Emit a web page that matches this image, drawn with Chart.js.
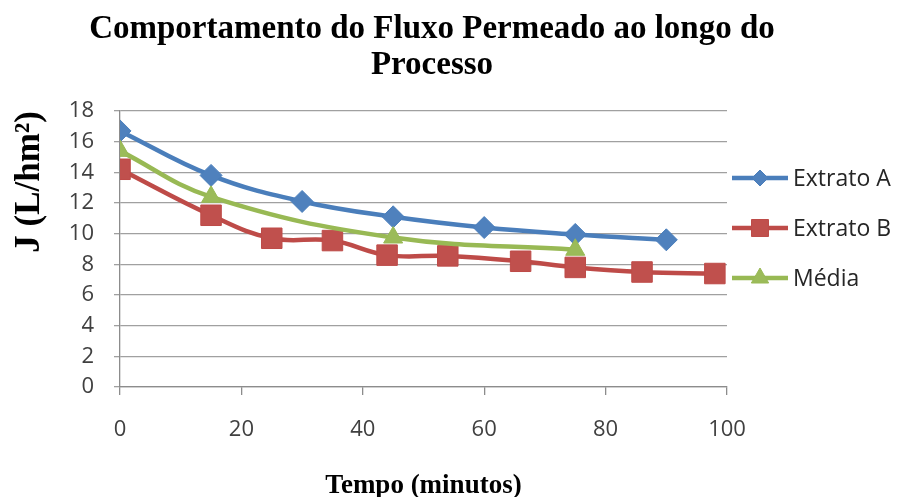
<!DOCTYPE html>
<html>
<head>
<meta charset="utf-8">
<script src="https://cdn.jsdelivr.net/npm/chart.js@4.4.0/dist/chart.umd.min.js"></script>
<style>
  html, body { margin: 0; padding: 0; background: #ffffff; }
  #wrap { width: 897px; height: 497px; }
</style>
</head>
<body>
<div id="wrap"><canvas id="c" width="897" height="497"></canvas></div>
<script>
// Permeate flux measurements (L/h·m²) against process time (minutes)
const tempoA = [0, 15, 30, 45, 60, 75, 90];
const fluxoA = [16.7, 13.8, 12.1, 11.1, 10.4, 9.95, 9.6];

const tempoB = [0, 15, 25, 35, 44, 54, 66, 75, 86, 98];
const fluxoB = [14.2, 11.2, 9.7, 9.55, 8.6, 8.55, 8.2, 7.8, 7.5, 7.4];

const tempoMedia = [0, 15, 45, 75];
const fluxoMedia = [15.4, 12.4, 9.75, 8.95];

const seriesNames = ['Extrato A', 'Extrato B', 'Média'];
const xTicks = [0, 20, 40, 60, 80, 100];
const yTicks = [0, 2, 4, 6, 8, 10, 12, 14, 16, 18];

const titleLines = ['Comportamento do Fluxo Permeado ao longo do', 'Processo'];
const xTitle = 'Tempo (minutos)';
const yTitle = 'J (L/hm²)';

const toPoints = (xs, ys) => xs.map((x, i) => ({ x: x, y: ys[i] }));

const SERIF = '"Liberation Serif", "Times New Roman", serif';
const SANS = '"Open Sans", "Noto Sans", sans-serif';

// Chart heading, drawn centred above the plot in two lines
const headingPlugin = {
  id: 'heading',
  afterDraw(chart) {
    const ctx = chart.ctx;
    ctx.save();
    ctx.fillStyle = '#000000';
    ctx.font = 'bold 33px ' + SERIF;
    ctx.textAlign = 'center';
    ctx.textBaseline = 'middle';
    const cx = 432;
    titleLines.forEach((line, i) => ctx.fillText(line, cx, 29 + i * 36));
    ctx.restore();
  }
};

// Legend on the right: line segment with the series marker, then the name
const lineLegendPlugin = {
  id: 'lineLegend',
  afterDraw(chart) {
    const ctx = chart.ctx;
    const x0 = chart.chartArea.right + 5;
    const x1 = x0 + 56;
    const top = 178;
    const gap = 50;
    ctx.save();
    chart.data.datasets.forEach((ds, i) => {
      const y = top + i * gap;
      ctx.strokeStyle = ds.borderColor;
      ctx.lineWidth = ds.borderWidth;
      ctx.lineCap = 'butt';
      ctx.beginPath();
      ctx.moveTo(x0, y);
      ctx.lineTo(x1, y);
      ctx.stroke();
      ctx.fillStyle = ds.pointBackgroundColor;
      ctx.strokeStyle = ds.pointBorderColor;
      ctx.lineWidth = 1;
      Chart.helpers.drawPoint(ctx, {
        pointStyle: ds.pointStyle,
        radius: ds.legendRadius,
        rotation: 0,
        borderWidth: 1
      }, (x0 + x1) / 2, y);
      ctx.fillStyle = '#262626';
      ctx.font = '23px ' + SANS;
      ctx.textAlign = 'left';
      ctx.textBaseline = 'middle';
      ctx.fillText(ds.label, x1 + 5, y + 1);
    });
    ctx.restore();
  }
};

const lineStyle = (color, fill, border) => ({
  borderColor: color,
  backgroundColor: color,
  pointBackgroundColor: fill,
  pointBorderColor: border,
  pointBorderWidth: 1,
  borderWidth: 4.5,
  borderJoinStyle: 'round',
  tension: 0.4,
  fill: false
});

new Chart(document.getElementById('c'), {
  type: 'line',
  data: {
    datasets: [
      Object.assign({
        label: seriesNames[0],
        data: toPoints(tempoA, fluxoA),
        pointStyle: 'rectRot',
        pointRadius: 11,
        legendRadius: 8,
        order: 2
      }, lineStyle('#4A7EBB', '#4F81BD', '#4A7EBB')),
      Object.assign({
        label: seriesNames[1],
        data: toPoints(tempoB, fluxoB),
        pointStyle: 'rect',
        pointRadius: 14.5,
        legendRadius: 12,
        order: 1
      }, lineStyle('#BE4B48', '#C0504D', '#BE4B48')),
      Object.assign({
        label: seriesNames[2],
        data: toPoints(tempoMedia, fluxoMedia),
        pointStyle: 'triangle',
        pointRadius: 11,
        legendRadius: 10,
        order: 0
      }, lineStyle('#98B954', '#9BBB59', '#98B954'))
    ]
  },
  options: {
    responsive: false,
    animation: false,
    devicePixelRatio: 1,
    layout: { padding: { top: 111, right: 170, bottom: 0, left: 0 } },
    plugins: {
      legend: { display: false },
      title: { display: false },
      tooltip: { enabled: false }
    },
    elements: { point: { hoverRadius: 11 } },
    scales: {
      x: {
        type: 'linear',
        min: 0,
        max: 100,
        afterBuildTicks: s => { s.ticks = xTicks.map(v => ({ value: v })); },
        afterFit: s => { s.height = 110; s.paddingLeft = 0; s.paddingRight = 0; },
        grid: {
          drawOnChartArea: false,
          drawTicks: true,
          tickLength: 8,
          color: '#8c8c8c',
          lineWidth: 1.3
        },
        border: { display: true, color: '#8c8c8c', width: 1.3 },
        ticks: {
          padding: 22,
          color: '#404040',
          font: { family: SANS, size: 22 },
          maxRotation: 0
        },
        title: {
          display: true,
          text: xTitle,
          color: '#000000',
          font: { family: SERIF, size: 27, weight: 'bold', lineHeight: 1 },
          padding: { top: 0, bottom: -2.5 }
        }
      },
      y: {
        type: 'linear',
        min: 0,
        max: 18,
        afterBuildTicks: s => { s.ticks = yTicks.map(v => ({ value: v })); },
        afterFit: s => { s.width = 120; s.paddingTop = 0; s.paddingBottom = 0; },
        grid: {
          drawOnChartArea: true,
          drawTicks: true,
          tickLength: 6,
          color: '#a0a0a0',
          lineWidth: 1.3
        },
        border: { display: true, color: '#8c8c8c', width: 1.3 },
        ticks: {
          padding: 20,
          color: '#404040',
          font: { family: SANS, size: 22 }
        },
        title: {
          display: true,
          text: yTitle,
          align: 'end',
          color: '#000000',
          font: { family: SERIF, size: 35, weight: 'bold', lineHeight: 1.2 },
          padding: { top: 9, bottom: 0 }
        }
      }
    }
  },
  plugins: [headingPlugin, lineLegendPlugin]
});
</script>
</body>
</html>
